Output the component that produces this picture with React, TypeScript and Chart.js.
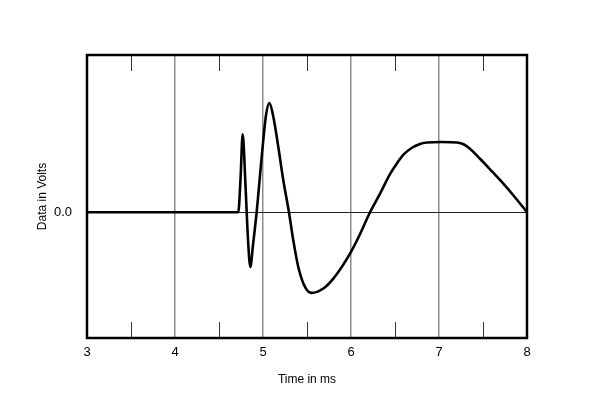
import React, { useEffect, useRef } from "react";
import { Chart, registerables } from "chart.js";

Chart.register(...registerables);

const timeMs = [
  3.0, 4.719, 4.744, 4.769, 4.801, 4.83, 4.856, 4.886, 4.928, 4.966, 5.003, 5.034, 5.072, 5.114,
  5.174, 5.227, 5.295, 5.344, 5.401, 5.477, 5.553, 5.685, 5.799, 5.989, 6.102, 6.216, 6.33,
  6.443, 6.523, 6.602, 6.693, 6.784, 6.864, 7.03, 7.205, 7.284, 7.352, 7.466, 7.58, 7.716,
  7.844, 8.0,
];
const volts = [
  0, 0, 0.204, 0.496, 0.172, -0.178, -0.348, -0.21, 0, 0.235, 0.458, 0.617, 0.695, 0.617,
  0.415, 0.216, 0, -0.178, -0.348, -0.475, -0.513, -0.485, -0.422, -0.263, -0.14, 0, 0.118,
  0.242, 0.312, 0.369, 0.41, 0.434, 0.443, 0.447, 0.443, 0.431, 0.404, 0.34, 0.273, 0.191,
  0.108, 0,
];
const xMajorTicks = [3, 4, 5, 6, 7, 8];
const xMinorTicks = [3.5, 4.5, 5.5, 6.5, 7.5];
const yTickValues = [0];
const yTickLabels = ["0.0"];

const FONT = "Arial, 'Liberation Sans', Helvetica, sans-serif";

const frameAndMinor = {
  id: "frameAndMinor",
  afterDatasetsDraw(chart: any) {
    const { ctx, chartArea } = chart;
    const xs = chart.scales.x;
    ctx.save();
    ctx.strokeStyle = "#333";
    ctx.lineWidth = 1;
    for (const v of xMinorTicks) {
      const px = Math.round(xs.getPixelForValue(v)) + 0.5;
      ctx.beginPath();
      ctx.moveTo(px, chartArea.bottom);
      ctx.lineTo(px, chartArea.bottom - 16);
      ctx.moveTo(px, chartArea.top);
      ctx.lineTo(px, chartArea.top + 16);
      ctx.stroke();
    }
    ctx.strokeStyle = "#000";
    ctx.lineWidth = 2.5;
    ctx.strokeRect(
      chartArea.left,
      chartArea.top,
      chartArea.right - chartArea.left,
      chartArea.bottom - chartArea.top
    );
    ctx.restore();
  },
};

export default function App() {
  const ref = useRef<HTMLCanvasElement>(null);
  useEffect(() => {
    if (!ref.current) return;
    const data = timeMs.map((t, i) => ({ x: t, y: volts[i] }));
    const chart = new Chart(ref.current, {
      type: "line",
      data: {
        datasets: [
          {
            data,
            borderColor: "#000",
            borderWidth: 2.6,
            pointRadius: 0,
            fill: false,
            cubicInterpolationMode: "monotone",
          },
        ],
      },
      options: {
        animation: false,
        responsive: false,
        maintainAspectRatio: false,
        layout: { padding: { left: 35, top: 55, right: 73, bottom: 18 } },
        plugins: { legend: { display: false }, tooltip: { enabled: false } },
        scales: {
          x: {
            type: "linear",
            min: 3,
            max: 8,
            afterFit: (s: any) => {
              s.height = 49;
            },
            afterBuildTicks: (s: any) => {
              s.ticks = xMajorTicks.map((v) => ({ value: v }));
            },
            ticks: {
              color: "#000",
              font: { family: FONT, size: 13 },
              padding: 7,
              maxRotation: 0,
              callback: (v: any) => String(v),
            },
            grid: {
              drawTicks: false,
              color: (c: any) =>
                c.tick && c.tick.value > 3 && c.tick.value < 8 ? "#8c8c8c" : "rgba(0,0,0,0)",
              lineWidth: 1.5,
            },
            border: { display: false },
            title: {
              display: true,
              text: "Time in ms",
              color: "#000",
              font: { family: FONT, size: 12 },
              padding: { top: 9, bottom: 0 },
            },
          },
          y: {
            type: "linear",
            min: -0.8,
            max: 1.0,
            afterFit: (s: any) => {
              s.width = 52;
            },
            afterBuildTicks: (s: any) => {
              s.ticks = yTickValues.map((v) => ({ value: v }));
            },
            ticks: {
              color: "#000",
              font: { family: FONT, size: 13 },
              padding: 15,
              callback: (v: any) => {
                const i = yTickValues.indexOf(Number(v));
                return i >= 0 ? yTickLabels[i] : "";
              },
            },
            grid: {
              drawTicks: false,
              color: "#222",
              lineWidth: 1,
            },
            border: { display: false },
            title: {
              display: true,
              text: "Data in Volts",
              color: "#000",
              font: { family: FONT, size: 12 },
              padding: { top: 0, bottom: 0 },
            },
          },
        },
      },
      plugins: [frameAndMinor],
    } as any);
    return () => chart.destroy();
  }, []);
  return (
    <div style={{ position: "fixed", left: 0, top: 0, width: 600, height: 405, background: "#fff" }}>
      <canvas ref={ref} width={600} height={405} style={{ width: 600, height: 405 }} />
    </div>
  );
}
